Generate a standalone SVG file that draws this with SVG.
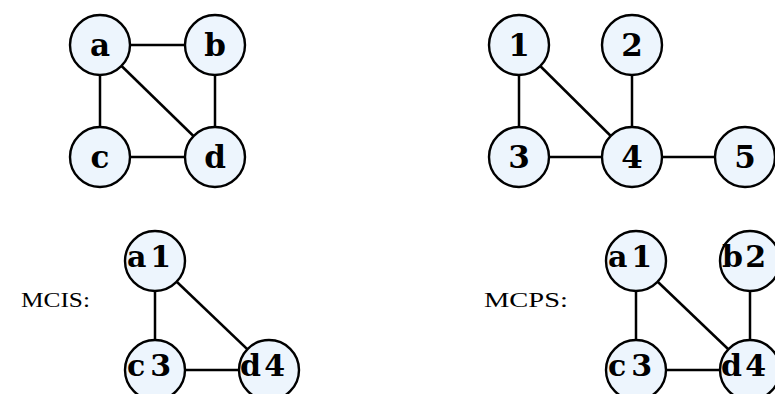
<svg xmlns="http://www.w3.org/2000/svg" width="775" height="394" viewBox="0 0 775 394">
<style>
.n{fill:#edf5fd;stroke:#000;stroke-width:2.4}
.e{stroke:#000;stroke-width:2.5}
.t{font-family:"DejaVu Serif",serif;font-weight:bold;font-size:31px;text-anchor:middle;fill:#000}
.s{font-family:"DejaVu Serif",serif;font-weight:bold;font-size:30px;fill:#000}
.l{font-family:"Liberation Serif",serif;font-size:21px;fill:#000}
</style>
<rect width="775" height="394" fill="#fff"/>
<g id="connectors">
<line class="e" x1="100" y1="45" x2="215" y2="45"/>
<line class="e" x1="100" y1="45" x2="100" y2="157"/>
<line class="e" x1="100" y1="45" x2="215" y2="157"/>
<line class="e" x1="215" y1="45" x2="215" y2="157"/>
<line class="e" x1="100" y1="157" x2="215" y2="157"/>
<line class="e" x1="519" y1="45" x2="519" y2="157"/>
<line class="e" x1="519" y1="45" x2="632" y2="157"/>
<line class="e" x1="632" y1="45" x2="632" y2="157"/>
<line class="e" x1="519" y1="157" x2="632" y2="157"/>
<line class="e" x1="632" y1="157" x2="745" y2="157"/>
<line class="e" x1="155" y1="261" x2="155" y2="370"/>
<line class="e" x1="155" y1="261" x2="269" y2="370"/>
<line class="e" x1="155" y1="370" x2="269" y2="370"/>
<line class="e" x1="636" y1="261" x2="636" y2="370"/>
<line class="e" x1="636" y1="261" x2="750" y2="370"/>
<line class="e" x1="750" y1="261" x2="750" y2="370"/>
<line class="e" x1="636" y1="370" x2="750" y2="370"/>
</g>
<g id="node-a"><circle class="n" cx="100" cy="45" r="30"/><text class="t" x="100" y="56">a</text></g>
<g id="node-b"><circle class="n" cx="215" cy="45" r="30"/><text class="t" x="215" y="56">b</text></g>
<g id="node-c"><circle class="n" cx="100" cy="157" r="30"/><text class="t" x="100" y="168">c</text></g>
<g id="node-d"><circle class="n" cx="215" cy="157" r="30"/><text class="t" x="215" y="168">d</text></g>
<g id="node-1"><circle class="n" cx="519" cy="45" r="30"/><text class="t" x="519" y="56">1</text></g>
<g id="node-2"><circle class="n" cx="632" cy="45" r="30"/><text class="t" x="632" y="56">2</text></g>
<g id="node-3"><circle class="n" cx="519" cy="157" r="30"/><text class="t" x="519" y="168">3</text></g>
<g id="node-4"><circle class="n" cx="632" cy="157" r="30"/><text class="t" x="632" y="168">4</text></g>
<g id="node-5"><circle class="n" cx="745" cy="157" r="30"/><text class="t" x="745" y="168">5</text></g>
<g id="label-mcis"><text class="l" x="21" y="307" textLength="69" lengthAdjust="spacingAndGlyphs">MCIS:</text></g>
<g id="node-mcis-a1"><circle class="n" cx="155" cy="261" r="30"/><text class="s" x="127" y="267" textLength="44" lengthAdjust="spacing">a1</text></g>
<g id="node-mcis-c3"><circle class="n" cx="155" cy="370" r="30"/><text class="s" x="127" y="376" textLength="44" lengthAdjust="spacing">c3</text></g>
<g id="node-mcis-d4"><circle class="n" cx="269" cy="370" r="30"/><text class="s" x="240" y="376" textLength="45" lengthAdjust="spacing">d4</text></g>
<g id="label-mcps"><text class="l" x="484" y="307" textLength="84" lengthAdjust="spacingAndGlyphs">MCPS:</text></g>
<g id="node-mcps-a1"><circle class="n" cx="636" cy="261" r="30"/><text class="s" x="608" y="267" textLength="44" lengthAdjust="spacing">a1</text></g>
<g id="node-mcps-b2"><circle class="n" cx="750" cy="261" r="30"/><text class="s" x="722" y="267" textLength="44" lengthAdjust="spacing">b2</text></g>
<g id="node-mcps-c3"><circle class="n" cx="636" cy="370" r="30"/><text class="s" x="608" y="376" textLength="44" lengthAdjust="spacing">c3</text></g>
<g id="node-mcps-d4"><circle class="n" cx="750" cy="370" r="30"/><text class="s" x="721" y="376" textLength="45" lengthAdjust="spacing">d4</text></g>
</svg>
